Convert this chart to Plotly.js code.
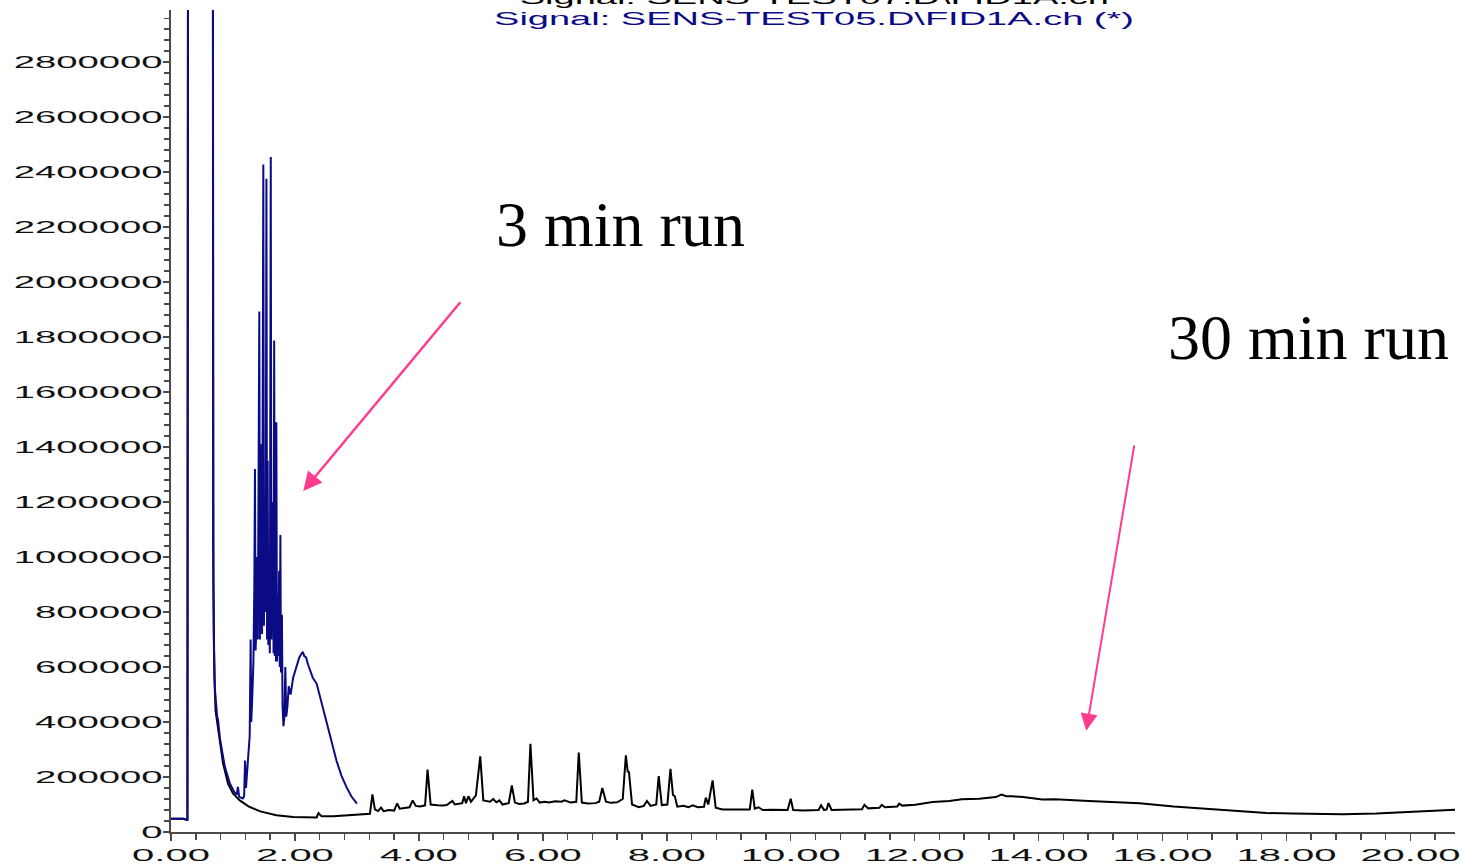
<!DOCTYPE html>
<html>
<head>
<meta charset="utf-8">
<script src="https://cdn.plot.ly/plotly-3.0.1.min.js"></script>
<style>
html,body{margin:0;padding:0;background:#fff;}
#chart{width:1461px;height:864px;}
</style>
</head>
<body>
<div id="chart"></div>
<script>
// ---- data ----
const titleTop = "Signal: SENS-TEST07.D\\FID1A.ch";
const titleBlue = "Signal: SENS-TEST05.D\\FID1A.ch (*)";
const label3 = "3 min run";
const label30 = "30 min run";

// 30 min run (black)
const run30Time = [0.00,0.20,0.25,0.265,0.275,0.675,0.685,0.70,0.72,0.76,0.79,0.84,0.92,1.00,1.11,1.25,1.44,1.70,1.97,2.24,2.35,2.38,2.43,2.62,2.94,3.16,3.21,3.25,3.29,3.34,3.39,3.43,3.52,3.60,3.65,3.69,3.78,3.85,3.90,3.95,4.02,4.10,4.14,4.19,4.30,4.38,4.45,4.54,4.58,4.64,4.70,4.73,4.76,4.80,4.84,4.92,4.99,5.04,5.10,5.15,5.20,5.25,5.30,5.35,5.40,5.45,5.50,5.55,5.62,5.70,5.76,5.80,5.85,5.90,5.95,6.03,6.10,6.20,6.30,6.35,6.45,6.54,6.58,6.63,6.72,6.85,6.91,6.96,7.02,7.10,7.20,7.29,7.34,7.37,7.39,7.44,7.55,7.63,7.68,7.74,7.83,7.87,7.92,8.01,8.06,8.10,8.13,8.17,8.27,8.35,8.42,8.50,8.60,8.63,8.67,8.74,8.79,8.90,9.00,9.15,9.34,9.38,9.42,9.48,9.55,9.70,9.85,9.95,10.00,10.04,10.20,10.45,10.49,10.54,10.58,10.61,10.66,10.90,11.15,11.19,11.25,11.43,11.47,11.52,11.72,11.75,11.80,12.01,12.29,12.56,12.76,13.04,13.31,13.40,13.48,13.58,13.75,14.06,14.27,14.81,15.36,15.63,16.18,16.72,17.27,17.68,18.09,18.91,19.45,20.00,20.48,20.75];
const run30Signal = [48000,48000,45000,45000,3500000,3500000,900000,560000,440000,370000,330000,250000,176000,140000,115000,93000,75000,61000,54500,52000,53000,69000,57000,57000,61000,64000,66000,137000,82000,76000,89000,76000,80000,78000,104000,85000,88000,90000,115000,95000,93000,97000,227000,100000,97000,96000,98000,113000,100000,103000,105000,130000,105000,130000,110000,133000,275000,115000,112000,110000,120000,108000,115000,100000,103000,105000,169000,107000,102000,104000,110000,321000,115000,122000,107000,110000,107000,112000,110000,115000,107000,110000,289000,107000,104000,105000,110000,160000,110000,106000,108000,120000,279000,220000,218000,100000,90000,95000,113000,95000,100000,203000,98000,100000,230000,135000,130000,92000,95000,90000,97000,90000,92000,125000,100000,188000,88000,82000,82000,83000,82000,154000,85000,90000,80000,81000,79000,80000,121000,80000,78000,80000,97000,80000,82000,105000,80000,81000,83000,99000,86000,88000,99000,90000,93000,103000,96000,99000,109000,113000,119000,121000,127000,136000,130000,130000,127000,118000,119000,113000,107000,105000,93000,84000,76000,69000,67000,65000,67000,72000,79000,81000];

// 3 min run (blue)
const run3Time = [0.00,0.20,0.25,0.265,0.275,0.675,0.680,0.685,0.69,0.71,0.73,0.745,0.76,0.775,0.79,0.82,0.87,0.95,1.01,1.06,1.08,1.10,1.13,1.16,1.18,1.195,1.21,1.23,1.25,1.27,1.285,1.295,1.31,1.33,1.345,1.355,1.365,1.38,1.39,1.40,1.41,1.425,1.435,1.445,1.46,1.47,1.48,1.49,1.50,1.51,1.52,1.53,1.54,1.55,1.56,1.57,1.58,1.595,1.61,1.62,1.63,1.645,1.655,1.665,1.675,1.685,1.695,1.70,1.71,1.72,1.73,1.745,1.755,1.765,1.775,1.79,1.80,1.815,1.83,1.845,1.86,1.88,1.90,1.93,1.97,2.02,2.07,2.11,2.13,2.15,2.18,2.21,2.25,2.29,2.35,2.43,2.51,2.59,2.67,2.75,2.83,2.91,3.00];
const run3Signal = [48000,48000,45000,45000,3500000,3500000,1050000,840000,700000,515000,450000,420000,406000,360000,340000,300000,236000,177000,150000,135000,164000,128000,124000,122000,130000,260000,160000,230000,260000,350000,700000,400000,480000,620000,900000,1320000,660000,750000,1000000,700000,1150000,1893000,700000,1000000,1410000,720000,1300000,2428000,750000,1100000,800000,1200000,2376000,700000,1350000,680000,1000000,650000,2455000,700000,1150000,1200000,650000,1788000,640000,1000000,620000,1490000,620000,850000,640000,950000,600000,1080000,580000,790000,460000,385000,420000,600000,420000,460000,530000,500000,560000,600000,635000,650000,655000,640000,635000,610000,585000,560000,540000,470000,406000,330000,260000,205000,164000,130000,103000];

const xTickFormat = ".2f";
const yTickFormat = "d";

// ---- plot ----
const axisColor = "#4a4a4a";
const tickFont = {family: "Liberation Sans, Arial, sans-serif", size: 17, color: "#111"};

const traces = [
  {x: run30Time, y: run30Signal, type: "scatter", mode: "lines", name: titleTop,
   line: {color: "#000000", width: 2}, hoverinfo: "skip"},
  {x: run3Time, y: run3Signal, type: "scatter", mode: "lines", name: titleBlue,
   line: {color: "#0b0b85", width: 2}, hoverinfo: "skip"}
];

const pink = "#ff3b8d";
const layout = {
  width: 1461, height: 864,
  margin: {l: 171, r: 6, t: 10, b: 32, pad: 0},
  paper_bgcolor: "#fff", plot_bgcolor: "#fff",
  showlegend: false,
  xaxis: {
    range: [0, 20.72], dtick: 2, tick0: 0, tickformat: xTickFormat,
    showgrid: false, zeroline: false, showline: true, linecolor: axisColor, linewidth: 2,
    ticks: "outside", ticklen: 7, tickwidth: 1.5, tickcolor: axisColor,
    minor: {dtick: 0.4, ticks: "outside", ticklen: 6, tickwidth: 1.5, tickcolor: axisColor},
    tickfont: tickFont
  },
  yaxis: {
    range: [0, 2990000], dtick: 200000, tick0: 0, tickformat: yTickFormat,
    showgrid: false, zeroline: false, showline: true, linecolor: axisColor, linewidth: 2,
    ticks: "outside", ticklen: 6, tickwidth: 1.5, tickcolor: axisColor,
    minor: {dtick: 40000, ticks: "outside", ticklen: 5, tickwidth: 1.5, tickcolor: axisColor},
    tickfont: tickFont, ticklabelstandoff: -3
  },
  annotations: [
    {text: titleTop, xref: "paper", yref: "paper", x: 0.5008, y: 1.0146, xanchor: "center", yanchor: "middle",
     showarrow: false, font: {family: "Liberation Sans, Arial, sans-serif", size: 19, color: "#000"}},
    {text: titleBlue, xref: "paper", yref: "paper", x: 0.5008, y: 0.990, xanchor: "center", yanchor: "middle",
     showarrow: false, font: {family: "Liberation Sans, Arial, sans-serif", size: 19, color: "#0b0b85"}},
    {text: label3, xref: "paper", yref: "paper", x: 0.2515, y: 0.7385, xanchor: "left", yanchor: "middle",
     showarrow: false, font: {family: "Liberation Serif, Times New Roman, serif", size: 64, color: "#000"}},
    {text: label30, xref: "paper", yref: "paper", x: 0.7750, y: 0.6016, xanchor: "left", yanchor: "middle",
     showarrow: false, font: {family: "Liberation Serif, Times New Roman, serif", size: 64, color: "#000"}},
    {text: "", x: 2.134, y: 1240400, ax: 4.689, ay: 1932600, xref: "x", yref: "y", axref: "x", ayref: "y",
     showarrow: true, arrowhead: 2, arrowsize: 1.5, arrowwidth: 2.5, arrowcolor: pink, standoff: 0},
    {text: "", x: 14.769, y: 368500, ax: 15.548, ay: 1411400, xref: "x", yref: "y", axref: "x", ayref: "y",
     showarrow: true, arrowhead: 2, arrowsize: 1.7, arrowwidth: 2, arrowcolor: pink, standoff: 0}
  ]
};

function stretchText(sel, factor) {
  document.querySelectorAll(sel).forEach(function (t) {
    const w = t.getComputedTextLength();
    if (w > 0) {
      t.setAttribute("textLength", (w * factor).toFixed(1));
      t.setAttribute("lengthAdjust", "spacingAndGlyphs");
    }
  });
}

Plotly.newPlot("chart", traces, layout, {staticPlot: true, displayModeBar: false}).then(function () {
  stretchText(".ytick text", 2.25);
  stretchText(".xtick text", 2.35);
  const ann = document.querySelectorAll(".annotation-text");
  [0, 1].forEach(function (i) {
    const t = ann[i];
    if (t) {
      const w = t.getComputedTextLength();
      t.setAttribute("textLength", (w * 2.0).toFixed(1));
      t.setAttribute("lengthAdjust", "spacingAndGlyphs");
    }
  });
});
</script>
</body>
</html>
